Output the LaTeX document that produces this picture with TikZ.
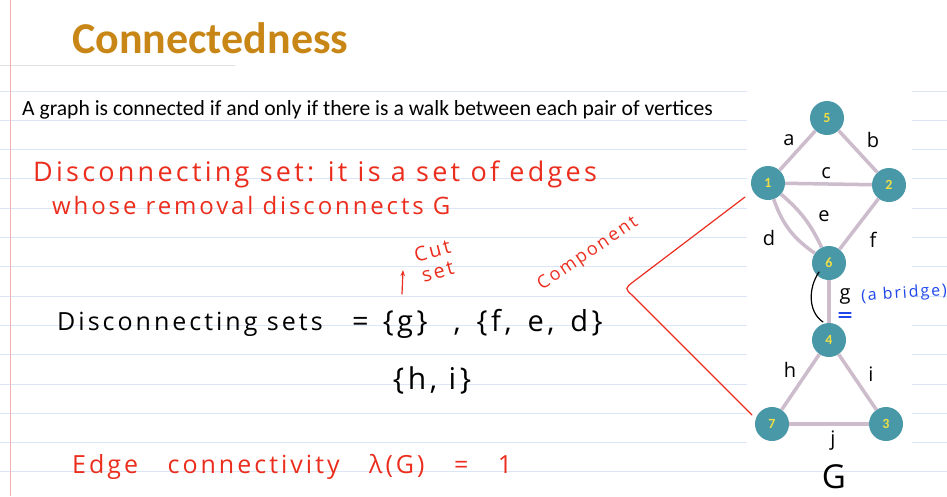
\documentclass[tikz,border=0pt]{standalone}
\usepackage{fontspec}
\setmainfont{Carlito}
\newfontfamily\handf[LetterSpace=12]{Open Sans}
\usetikzlibrary{arrows.meta, positioning}
\definecolor{titlec}{RGB}{200,134,22}
\definecolor{rulec}{RGB}{218,230,246}
\definecolor{marginc}{RGB}{242,175,180}
\definecolor{vtxc}{RGB}{72,152,168}
\definecolor{numc}{RGB}{238,222,70}
\definecolor{edgec}{RGB}{204,188,204}
\definecolor{penr}{RGB}{235,45,30}
\definecolor{penb}{RGB}{30,70,235}
\tikzset{
  vtx/.style={circle, fill=vtxc, minimum size=34pt, inner sep=0pt, text=numc,
              font=\bfseries\fontsize{14}{14}\selectfont},
  gedge/.style={draw=edgec, line width=3.5pt},
  hand/.style={font=\handf\fontsize{#1}{#1}\selectfont, inner sep=0pt},
  hand/.default=20,
  elab/.style={hand=20, text=black},
  pen/.style={line width=1.2pt, line cap=round},
}

\begin{document}
\begin{tikzpicture}[x=1pt, y=-1pt]
  \useasboundingbox (0,0) rectangle (947,496);
  % ruled paper
  \foreach \k in {0,...,13}
    \draw[rulec, line width=1pt] (0,91+29.3*\k) -- (947,91+29.3*\k);
  \fill[white] (747,78) rectangle (912,456);
  \draw[black!12, line width=0.8pt] (0,65) -- (235,65);
  \draw[marginc, line width=1pt] (10,0) -- (10,496);

  % typed text
  \node[anchor=west, inner sep=0pt, text=titlec,
        font=\bfseries\fontsize{44}{44}\selectfont] (title) at (72,38) {Connectedness};
  \node[anchor=west, inner sep=0pt, font=\fontsize{21.6}{21.6}\selectfont] (intro) at (22,110)
    {A graph is connected if and only if there is a walk between each pair of vertices};

  % definition
  \node[hand=27, text=penr, anchor=west] (defa) at (33,174)
    {Disconnecting set: it is a set of edges};
  \node[hand=24, text=penr, anchor=west] (defb) at (52,205)
    {whose removal disconnects G};
  \node[text=penr, align=center, inner sep=0pt, rotate=15,
        font=\handf\fontsize{20}{21}\selectfont] (cutset) at (435,261) {Cut\\set};
  \coordinate (cuttail) at (402,294);
  \coordinate (cuthead) at (403,270);
  \draw[pen, penr, -{Stealth[length=6pt]}] (cuttail) -- (cuthead);
  \node[hand=18, text=penr, rotate=34] (comp) at (588,254) {Component};

  % sets
  \node[hand=25, anchor=west] (dsets) at (57,324) {Disconnecting sets};
  \node[hand=29, anchor=west] (dvals) at (352,324)
    {=\hspace{14pt}\{g\}\hspace{26pt},\hspace{16pt}\{f,\hspace{16pt}e,\hspace{16pt}d\}};
  \node[hand=30] (hi) at (432,380) {\{h, i\}};
  \node[hand=25, text=penr, anchor=west] (econn) at (72,467)
    {Edge\hspace{20pt} connectivity\hspace{20pt} λ(G)\hspace{20pt} =\hspace{20pt} 1};

  % graph
  \node[vtx] (n5) at (827,118) {5};
  \node[vtx] (n1) at (768,183) {1};
  \node[vtx] (n2) at (889,185) {2};
  \node[vtx] (n6) at (829,263) {6};
  \node[vtx] (n4) at (829,340) {4};
  \node[vtx] (n7) at (772,424) {7};
  \node[vtx] (n3) at (886,424) {3};
  \draw[gedge] (n1) -- (n5);
  \draw[gedge] (n5) -- (n2);
  \draw[gedge] (n1) -- (n2);
  \draw[gedge] (n1) to[bend right=18] (n6);
  \draw[gedge] (n1) to[bend left=12] (n6);
  \draw[gedge] (n2) -- (n6);
  \draw[gedge] (n6) -- (n4);
  \draw[gedge] (n4) -- (n7);
  \draw[gedge] (n4) -- (n3);
  \draw[gedge] (n7) -- (n3);
  \node[elab] (la) at (789,140) {a};
  \node[elab] (lb) at (873,140) {b};
  \node[elab] (lc) at (826,173) {c};
  \node[elab] (ld) at (769,238) {d};
  \node[elab] (le) at (824,216) {e};
  \node[elab] (lf) at (873,240) {f};
  \node[elab] (lg) at (845,296) {g};
  \node[elab] (lh) at (790,370) {h};
  \node[elab] (li) at (871,374) {i};
  \node[elab] (lj) at (833,441) {j};
  \node[hand=33] (gname) at (834,477) {G};

  % bridge note
  \coordinate (brtop) at (819,272);
  \coordinate (brbot) at (823,322);
  \draw[pen] (brtop) .. controls (808,288) and (808,312) .. (brbot);
  \draw[pen, penb] (839,313) -- (851,313) (839,317) -- (851,317);
  \node[hand=16, text=penb, anchor=west, rotate=4] (bridge) at (861,297) {(a bridge)};

  % component bracket
  \coordinate (cpa) at (745,197);
  \coordinate (cpb) at (752,415);
  \draw[pen, penr] (cpa) -- (633,282) .. controls (625,288) and (625,289) .. (632,295) -- (cpb);
\end{tikzpicture}
\end{document}
